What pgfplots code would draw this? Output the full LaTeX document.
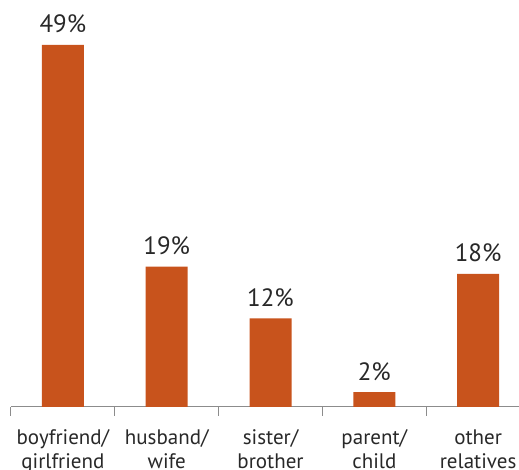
\documentclass[border=0pt]{standalone}
\usepackage{pgfplots}
\pgfplotsset{compat=1.18}
\usepackage{fontspec}
\setmainfont{PT Sans}
\definecolor{barc}{RGB}{200,83,28}
\definecolor{txt}{RGB}{40,40,40}
\definecolor{axc}{RGB}{140,140,140}
\begin{document}
\begin{tikzpicture}
\useasboundingbox (-11pt,-63pt) rectangle (508pt,407pt);
\begin{axis}[
  at={(0,0)}, anchor=south west,
  scale only axis, width=508pt, height=406.5pt,
  xmin=-0.5, xmax=4.394, ymin=0, ymax=55,
  axis x line=bottom, axis y line=none,
  axis line style={draw=axc, line width=1pt, -},
  xtick={0,1,2,3,4},
  xticklabels={boyfriend/\\girlfriend, husband/\\wife, sister/\\brother, parent/\\child, other\\relatives},
  major tick length=0pt,
  extra x ticks={-0.5,0.5,1.5,2.5,3.5},
  extra x tick labels={},
  extra x tick style={major tick length=9pt, tick align=outside, tick style={draw=axc, line width=1pt}},
  xticklabel style={align=center, font=\fontsize{21}{24}\selectfont, text=txt, yshift=-19pt},
  ytick=\empty,
  clip=false,
  /pgf/number format/assume math mode=true,
  nodes near coords={\pgfmathprintnumber{\pgfplotspointmeta}\%},
  every node near coord/.append style={font=\fontsize{25}{25}\selectfont, text=txt, anchor=base, yshift=12pt},
]
\addplot[ybar, bar width=42pt, fill=barc, draw=none] coordinates {(0,49) (1,19) (2,12) (3,2) (4,18)};
\end{axis}
\end{tikzpicture}
\end{document}
